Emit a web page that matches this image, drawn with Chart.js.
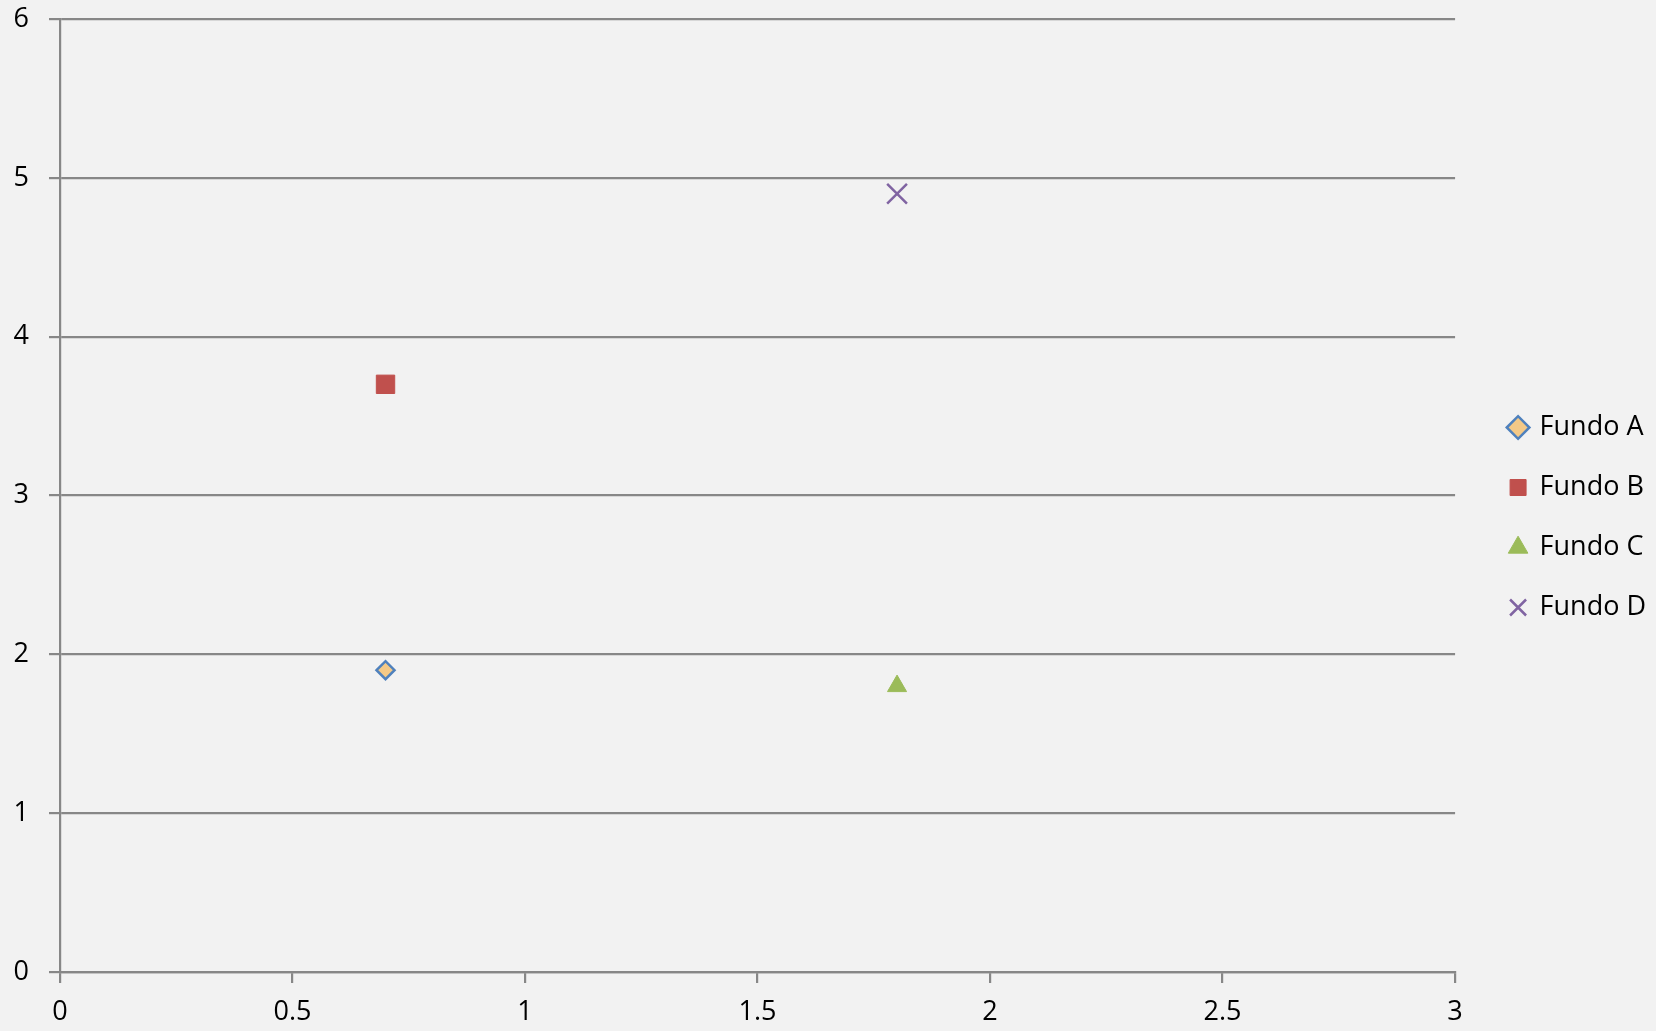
<!DOCTYPE html>
<html>
<head>
<meta charset="utf-8">
<title>Fundos</title>
<script src="https://cdn.jsdelivr.net/npm/chart.js@4/dist/chart.umd.min.js"></script>
<style>
  html, body { margin: 0; padding: 0; background: #f2f2f2; }
  #wrap { width: 1656px; height: 1031px; }
</style>
</head>
<body>
<div id="wrap"><canvas id="fundChart" width="1656" height="1031"></canvas></div>
<script>
// Series (x, y)
const seriesNames = ['Fundo A', 'Fundo B', 'Fundo C', 'Fundo D'];
const seriesX = [0.7, 0.7, 1.8, 1.8];
const seriesY = [1.9, 3.7, 1.8, 4.9];

// Axis ranges
const xTicks = [0, 0.5, 1, 1.5, 2, 2.5, 3];
const yTicks = [0, 1, 2, 3, 4, 5, 6];

// Marker look per series (Excel 2007 style)
const markerStyle = ['rectRot', 'rect', 'triangle', 'crossRot'];
const markerFill = ['#f4c987', '#c0504d', '#9bbb59', '#8064a2'];
const markerLine = ['#4f81bd', '#c0504d', '#9bbb59', '#8064a2'];
const markerSize = [9, 13, 11, 14];
const markerWidth = [2.5, 1, 1, 2.5];

const gridColor = '#878787';
const fontFamily = '"Open Sans", Lato, sans-serif';

document.addEventListener('DOMContentLoaded', function() {
    const ctx = document.getElementById('fundChart').getContext('2d');

    const datasets = seriesNames.map(function(name, i) {
        return {
            label: name,
            data: [{ x: seriesX[i], y: seriesY[i] }],
            pointStyle: markerStyle[i],
            pointRadius: markerSize[i],
            pointHoverRadius: markerSize[i],
            pointBackgroundColor: markerFill[i],
            pointBorderColor: markerLine[i],
            pointBorderWidth: markerWidth[i],
            backgroundColor: markerFill[i],
            borderColor: markerLine[i]
        };
    });

    new Chart(ctx, {
        type: 'scatter',
        data: { datasets: datasets },
        options: {
            responsive: false,
            animation: false,
            layout: { padding: { top: 4, left: 0, right: 0, bottom: 0 } },
            scales: {
                x: {
                    type: 'linear',
                    min: xTicks[0],
                    max: xTicks[xTicks.length - 1],
                    afterBuildTicks: function(scale) {
                        scale.ticks = xTicks.map(v => ({ value: v }));
                    },
                    afterFit: function(scale) { scale.height = 59; },
                    grid: {
                        drawOnChartArea: false,
                        drawTicks: true,
                        tickLength: 11,
                        color: gridColor,
                        lineWidth: 2.2
                    },
                    border: { display: true, color: gridColor, width: 2.2 },
                    ticks: {
                        color: '#000',
                        padding: 13,
                        maxRotation: 0,
                        font: { family: fontFamily, size: 27 },
                        callback: v => String(v)
                    }
                },
                y: {
                    type: 'linear',
                    min: yTicks[0],
                    max: yTicks[yTicks.length - 1],
                    afterBuildTicks: function(scale) {
                        scale.ticks = yTicks.map(v => ({ value: v }));
                    },
                    afterFit: function(scale) {
                        scale.width = 60;
                        // plot top sits 19px below the canvas edge
                        scale.paddingTop = 19;
                        scale.paddingBottom = 0;
                    },
                    grid: {
                        drawTicks: true,
                        tickLength: 11,
                        color: gridColor,
                        lineWidth: 2.2
                    },
                    border: { display: true, color: gridColor, width: 2.2 },
                    ticks: {
                        color: '#000',
                        padding: 20,
                        font: { family: fontFamily, size: 27 },
                        callback: v => String(v)
                    }
                },
                // empty spacer between plot and legend
                gap: {
                    type: 'linear',
                    position: 'right',
                    display: true,
                    grid: { display: false },
                    border: { display: false },
                    ticks: { display: false },
                    afterFit: function(scale) { scale.width = 22; }
                }
            },
            plugins: {
                legend: {
                    position: 'right',
                    labels: {
                        usePointStyle: true,
                        boxWidth: 16,
                        boxHeight: 16,
                        padding: 33,
                        color: '#000',
                        font: { family: fontFamily, size: 27 }
                    }
                },
                tooltip: { enabled: false }
            }
        }
    });
});
</script>
</body>
</html>
